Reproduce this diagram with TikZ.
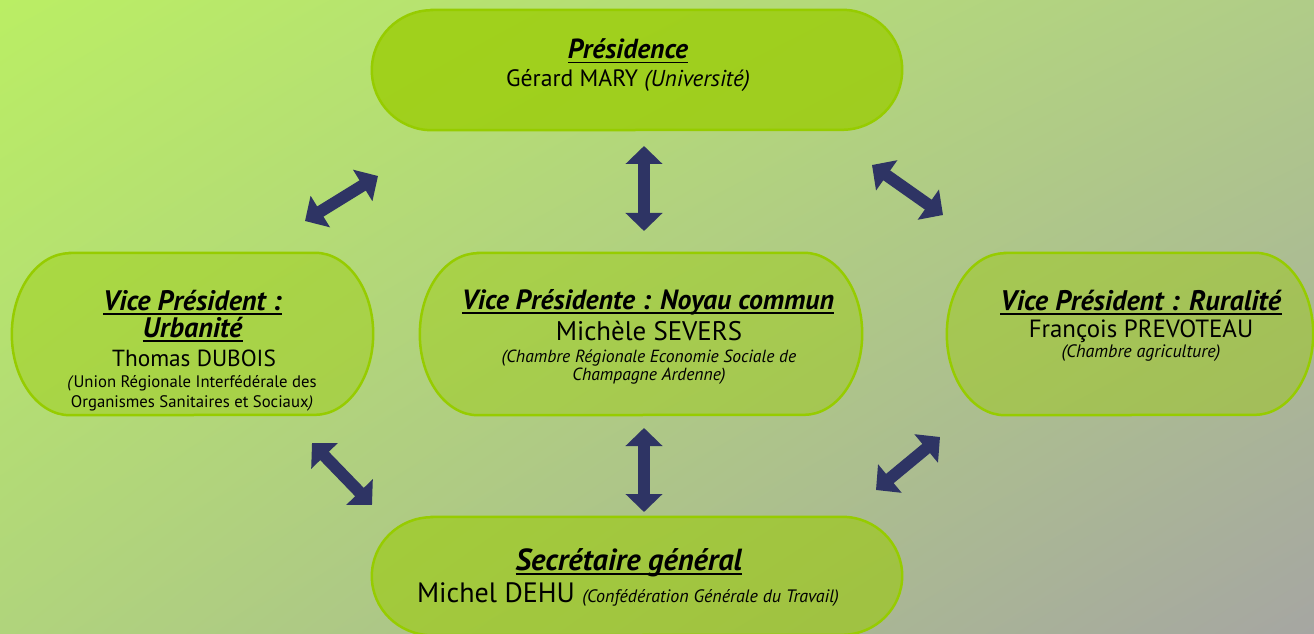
\documentclass[tikz,border=0pt]{standalone}
\usepackage{fontspec}
\setmainfont{PT Sans}
\usetikzlibrary{arrows.meta,shadings}
\definecolor{bgA}{RGB}{186,238,100}
\definecolor{bgB}{RGB}{176,204,136}
\definecolor{bgC}{RGB}{176,212,124}
\definecolor{bgD}{RGB}{166,166,162}
\definecolor{boxfill}{RGB}{153,204,0}
\definecolor{boxline}{RGB}{150,204,0}
\definecolor{arrowblue}{RGB}{46,52,100}
\tikzset{
  frame/.style={inner sep=0pt, draw=none},
  txt/.style={anchor=base, inner sep=0pt, text=black},
  dblarrow/.style={draw=arrowblue, line width=12pt,
     {Triangle[width=36pt,length=18pt]}-{Triangle[width=36pt,length=18pt]}},
}
\newcommand{\stadiumpath}[3]{([xshift=#2]#1.north west) -- ([xshift=-#2]#1.north east)
  arc[start angle=90,end angle=-90,x radius=#2,y radius=#3] -- ([xshift=#2]#1.south west)
  arc[start angle=270,end angle=90,x radius=#2,y radius=#3] -- cycle}
\newcommand{\stadium}[4]{%
  \fill[boxfill, fill opacity=#4] \stadiumpath{#1}{#2}{#3};
  \draw[boxline, line width=2.5pt] \stadiumpath{#1}{#2}{#3};}
\newcommand{\ttl}[1]{\leavevmode\setbox0=\hbox{\textbf{\textit{#1}}}\rlap{\rule[-4.5pt]{\wd0}{1.8pt}}\box0}
\begin{document}
\begin{tikzpicture}[x=1pt,y=1pt]
\useasboundingbox (0,0) rectangle (1314,633);
\clip (0,0) rectangle (1314,633);
\shade[upper left=bgA, upper right=bgB, lower left=bgC, lower right=bgD] (0,0) rectangle (1314,633);

% frames
\node[frame, minimum width=530pt, minimum height=120pt] (pres) at (637,563) {};
\node[frame, minimum width=361pt, minimum height=162pt] (vpu) at (192.5,299) {};
\node[frame, minimum width=442pt, minimum height=162pt] (vpn) at (641,299) {};
\node[frame, minimum width=366pt, minimum height=162pt] (vpr) at (1130,299) {};
\node[frame, minimum width=530pt, minimum height=118pt] (sec) at (637,57) {};

\stadium{pres}{60pt}{60pt}{0.75}
\stadium{vpu}{58pt}{81pt}{0.4}
\stadium{vpn}{58pt}{81pt}{0.4}
\stadium{vpr}{58pt}{81pt}{0.4}
\stadium{sec}{60pt}{59pt}{0.55}

% texts
\node[txt, font=\fontsize{27.6}{32}\selectfont] (presT) at (628,574) {\ttl{Présidence}};
\node[txt, font=\fontsize{23.7}{28}\selectfont] (presN) at (628,546) {Gérard MARY \fontsize{23}{27}\selectfont\textit{(Université)}};

\node[txt, font=\fontsize{28.2}{32}\selectfont] (vpuT1) at (192.5,323) {\ttl{Vice Président :}};
\node[txt, font=\fontsize{28.2}{32}\selectfont] (vpuT2) at (193,296) {\ttl{Urbanité}};
\node[txt, font=\fontsize{23.3}{27}\selectfont] (vpuN) at (194,267) {Thomas DUBOIS};
\node[txt, font=\fontsize{16.7}{20}\selectfont] (vpuO1) at (192,246) {\textit{(}Union Régionale Interfédérale des};
\node[txt, font=\fontsize{16.7}{20}\selectfont] (vpuO2) at (192,226) {Organismes Sanitaires et Sociaux\textit{)}};

\node[txt, font=\fontsize{27.8}{32}\selectfont] (vpnT) at (648,324) {\ttl{Vice Présidente : Noyau commun}};
\node[txt, font=\fontsize{26.9}{31}\selectfont] (vpnN) at (649,293) {Michèle SEVERS};
\node[txt, font=\fontsize{17.6}{21}\selectfont\itshape] (vpnO1) at (649,271) {(Chambre Régionale Economie Sociale de};
\node[txt, font=\fontsize{17.6}{21}\selectfont\itshape] (vpnO2) at (649,253) {Champagne Ardenne)};

\node[txt, font=\fontsize{28.3}{32}\selectfont] (vprT) at (1141,323) {\ttl{Vice Président : Ruralité}};
\node[txt, font=\fontsize{24.9}{29}\selectfont] (vprN) at (1141,296) {François PREVOTEAU};
\node[txt, font=\fontsize{18}{21}\selectfont\itshape] (vprO) at (1141,276) {(Chambre agriculture)};

\node[txt, font=\fontsize{30.5}{35}\selectfont] (secT) at (629,63) {\ttl{Secrétaire général}};
\node[txt, font=\fontsize{28}{32}\selectfont] (secN) at (628,31) {Michel DEHU \fontsize{18}{21}\selectfont\textit{(Confédération Générale du Travail)}};

% arrows
\coordinate (a1s) at (305,412); \coordinate (a1e) at (378,457);
\coordinate (a2s) at (644,487); \coordinate (a2e) at (644,402);
\coordinate (a3s) at (872,468); \coordinate (a3e) at (943,418);
\coordinate (a4s) at (312,190); \coordinate (a4e) at (372,128);
\coordinate (a5s) at (644,205); \coordinate (a5e) at (644,121);
\coordinate (a6s) at (940,196); \coordinate (a6e) at (876,143);
\draw[dblarrow] (a1s) -- (a1e);
\draw[dblarrow] (a2s) -- (a2e);
\draw[dblarrow] (a3s) -- (a3e);
\draw[dblarrow] (a4s) -- (a4e);
\draw[dblarrow] (a5s) -- (a5e);
\draw[dblarrow] (a6s) -- (a6e);
\end{tikzpicture}
\end{document}
